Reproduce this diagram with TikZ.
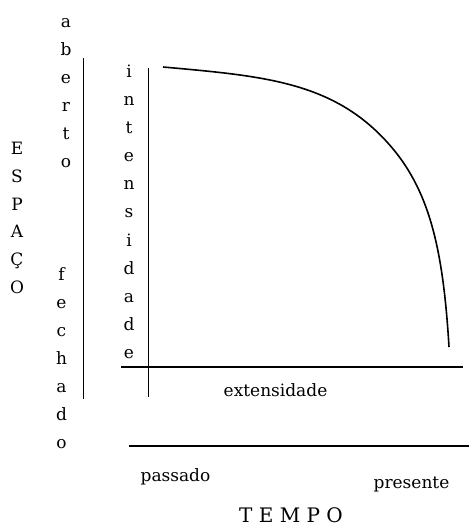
\documentclass[tikz,border=0pt]{standalone}
\usepackage{fontspec}
\setmainfont{DejaVu Serif}
\tikzset{
  letra/.style={anchor=base, inner sep=0pt, font=\fontsize{17}{20}\selectfont},
  maiuscula/.style={anchor=base, inner sep=0pt, font=\fontsize{17}{20}\selectfont},
  eixo/.style={line width=1.6pt},
}

\begin{document}
\begin{tikzpicture}[x=1pt, y=-1pt]
\useasboundingbox (0,0) rectangle (469,526);
% colunas verticais de letras
\foreach \c [count=\i] in {E,S,P,A,Ç,O}
  \node[maiuscula] (esp\i) at (17, {155+27.6*(\i-1)}) {\c};
\foreach \c [count=\i] in {a,b,e,r,t,o}
  \node[letra] (ab\i) at (66, {28+28*(\i-1)}) {\c};
\foreach \c [count=\i] in {f,e,c,h,a,d,o}
  \node[letra] (fe\i) at (61.5, {280+28*(\i-1)}) {\c};
\foreach \c [count=\i] in {i,n,t,e,n,s,i,d,a,d,e}
  \node[letra] (in\i) at (129, {78+28*(\i-1)}) {\c};
% eixos
\draw[eixo] (83.5,58) -- (83.5,399);
\draw[eixo] (148.5,68) -- (148.5,397);
\draw[eixo] (121,367) -- (463,367);
\draw[eixo] (129,446) -- (469,446);
% curva
\coordinate (inicio) at (163,67);
\coordinate (meio) at (387,142);
\coordinate (fim) at (449,347);
\draw[eixo] (inicio) .. controls (263,76) and (332,81.5) .. (meio)
  .. controls (429,188) and (443,247) .. (fim);
% rotulos
\node[letra] (ext) at (275.5,396) {extensidade};
\node[letra] (passado) at (175.5,481.5) {passado};
\node[letra] (presente) at (411.5,488) {presente};
\node[anchor=base, inner sep=0pt, font=\fontsize{20}{24}\selectfont] (tempo) at (291,522) {T E M P O};
\end{tikzpicture}
\end{document}
